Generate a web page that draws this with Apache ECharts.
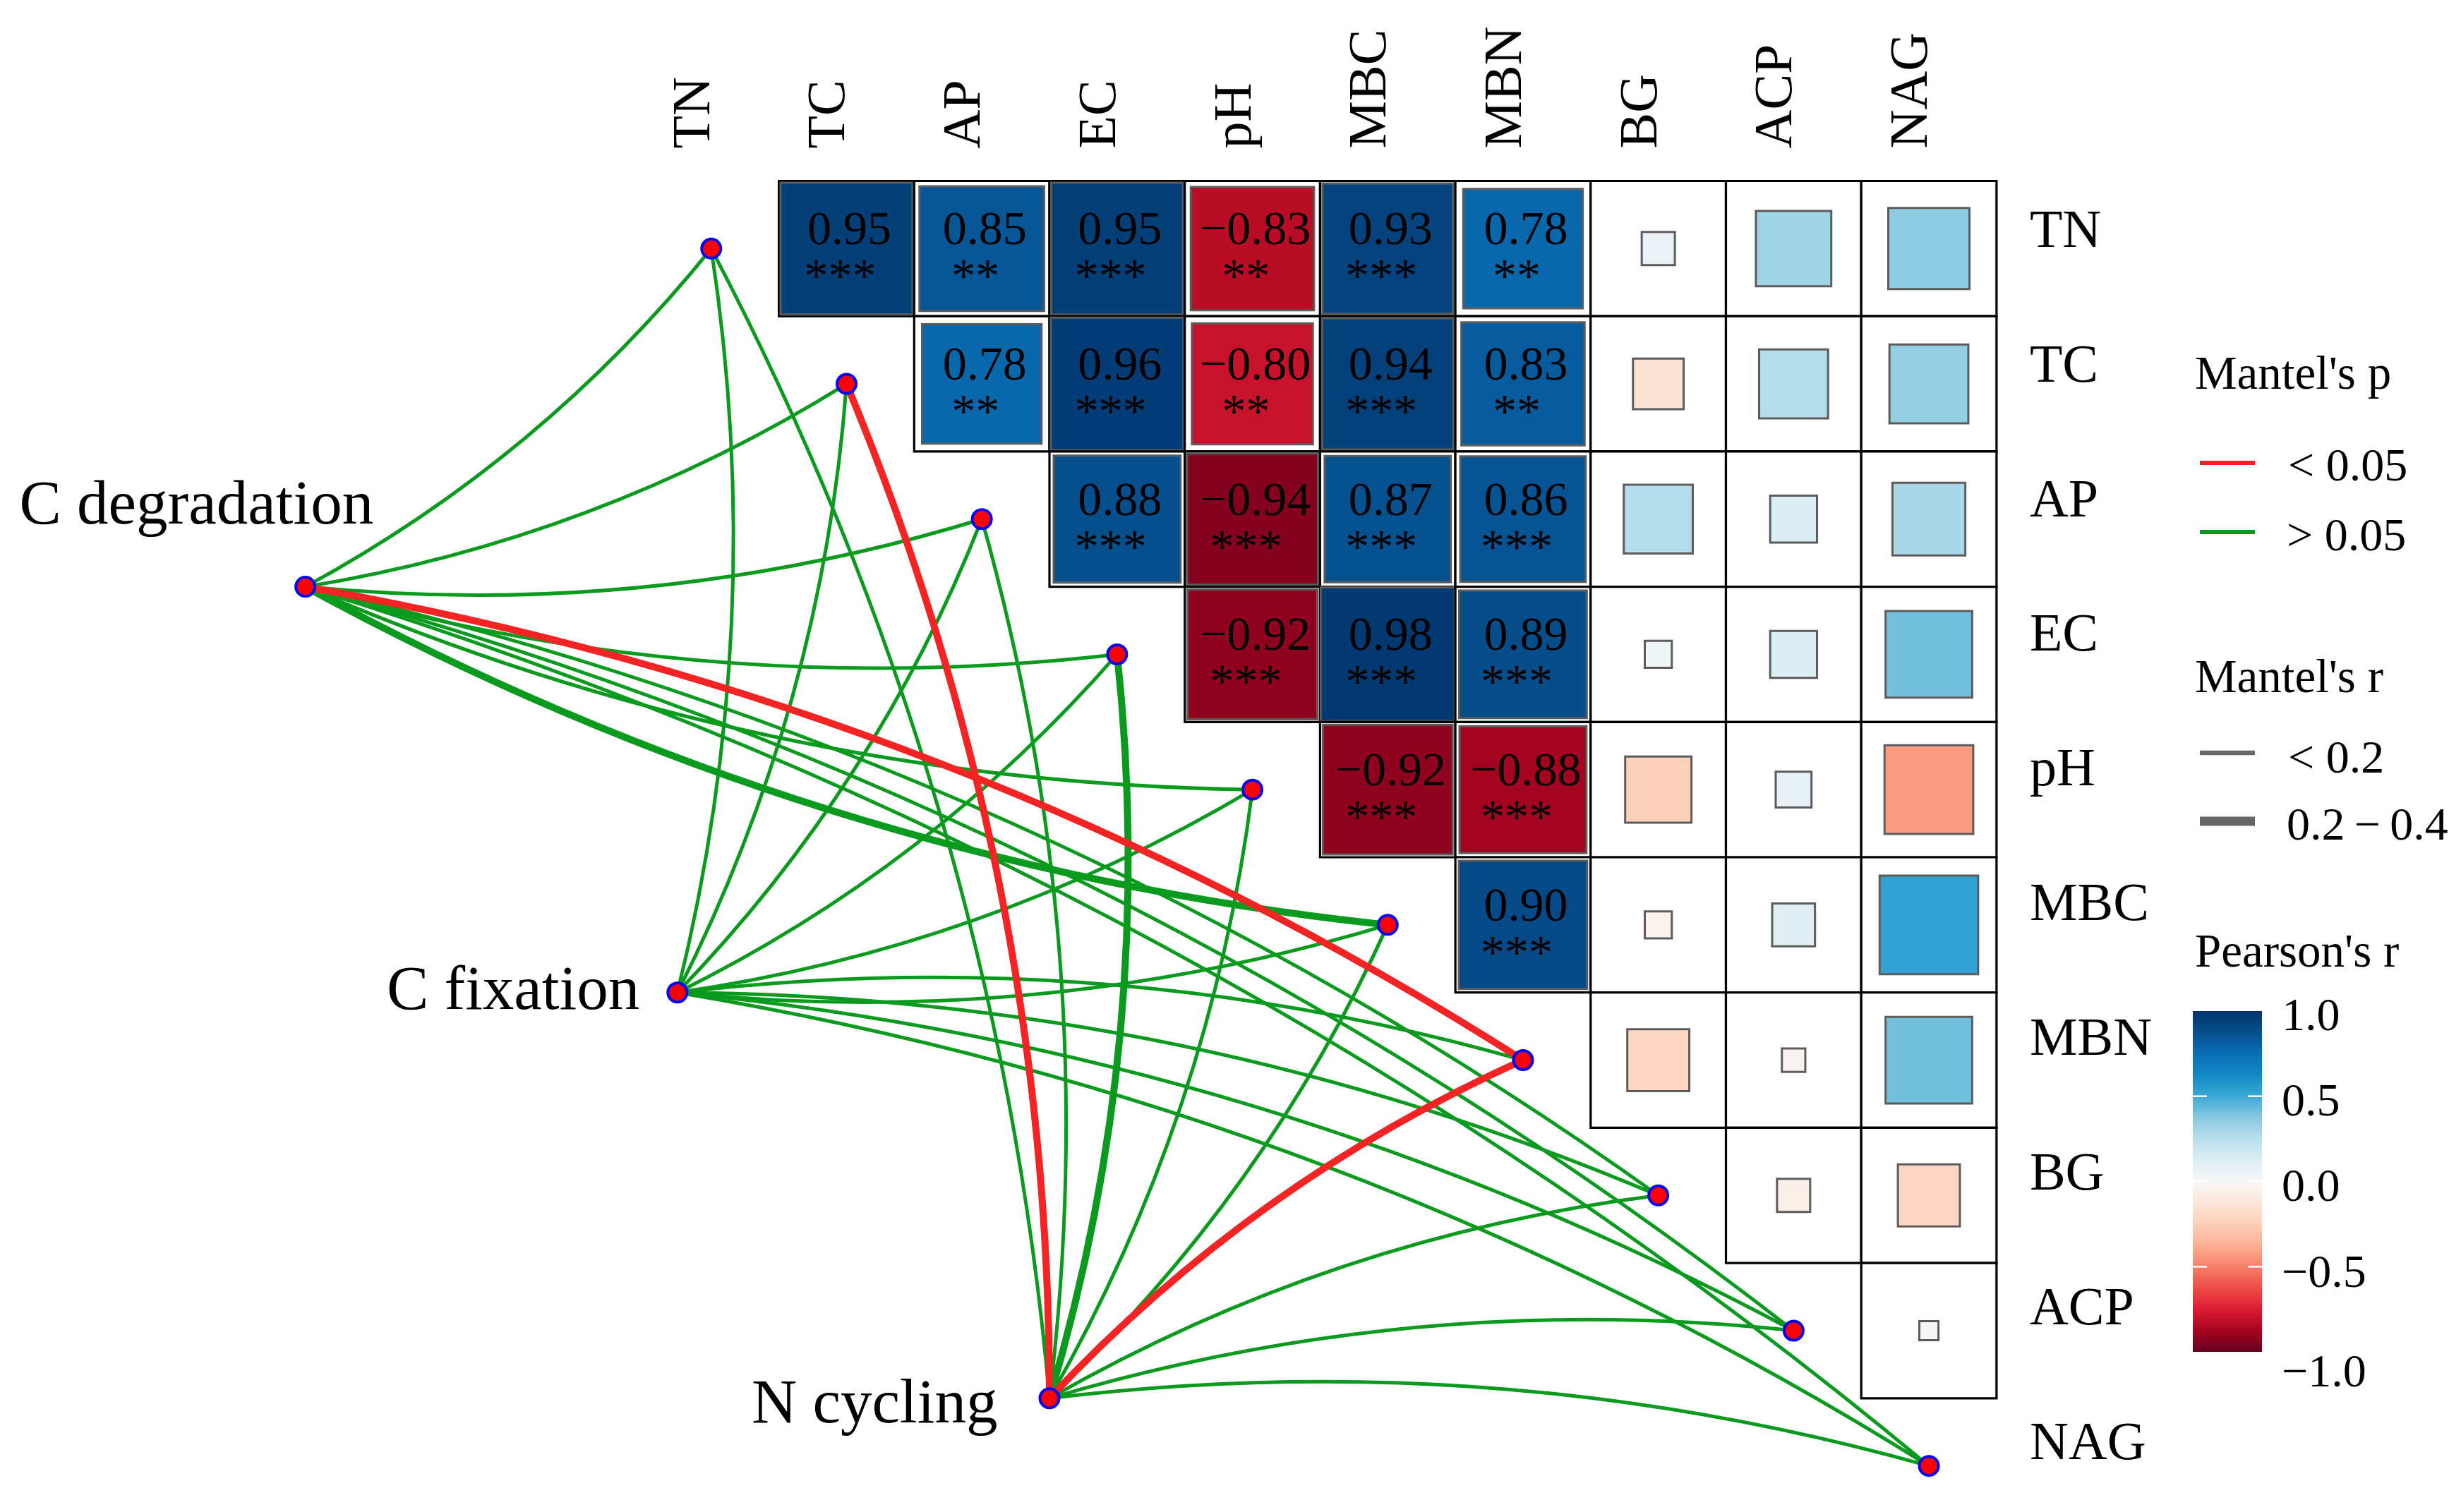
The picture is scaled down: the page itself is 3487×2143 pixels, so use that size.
<!DOCTYPE html>
<html><head><meta charset="utf-8">
<script src="https://cdn.jsdelivr.net/npm/echarts@6/dist/echarts.min.js"></script>
<style>html,body{margin:0;padding:0;background:#fff;}#chart{width:3487px;height:2143px;}</style>
</head><body><div id="chart"></div>
<script>
// ---------------- DATA ----------------
const envVars = ['TN','TC','AP','EC','pH','MBC','MBN','BG','ACP','NAG'];
const funcGroups = ['C degradation','C fixation','N cycling'];

// Pearson's r (upper triangle, each row lists the columns after the row variable)
const rTN  = [0.95, 0.85, 0.95, -0.83, 0.93, 0.78, 0.06, 0.31, 0.36];
const rTC  = [0.78, 0.96, -0.80, 0.94, 0.83, -0.14, 0.26, 0.34];
const rAP  = [0.88, -0.94, 0.87, 0.86, 0.26, 0.12, 0.29];
const rEC  = [-0.92, 0.98, 0.89, 0.04, 0.12, 0.41];
const rPH  = [-0.92, -0.88, -0.24, 0.07, -0.43];
const rMBC = [0.90, -0.04, 0.10, 0.53];
const rMBN = [-0.21, -0.03, 0.41];
const rBG  = [-0.06, -0.21];
const rACP = [0.02];

// significance stars for the same cells
const sTN  = ['***','**','***','**','***','**','','',''];
const sTC  = ['**','***','**','***','**','','',''];
const sAP  = ['***','***','***','***','','',''];
const sEC  = ['***','***','***','','',''];
const sPH  = ['***','***','','',''];
const sMBC = ['***','','',''];
const sMBN = ['','',''];
const sBG  = ['',''];
const sACP = [''];

// Mantel test classes (function group x environmental variable)
const mantelP_Cdeg = ['>0.05','>0.05','>0.05','>0.05','>0.05','>0.05','<0.05','>0.05','>0.05','>0.05'];
const mantelP_Cfix = ['>0.05','>0.05','>0.05','>0.05','>0.05','>0.05','>0.05','>0.05','>0.05','>0.05'];
const mantelP_Ncyc = ['>0.05','<0.05','>0.05','>0.05','>0.05','>0.05','<0.05','>0.05','>0.05','>0.05'];
const mantelR_Cdeg = ['<0.2','<0.2','<0.2','<0.2','<0.2','0.2-0.4','0.2-0.4','<0.2','<0.2','<0.2'];
const mantelR_Cfix = ['<0.2','<0.2','<0.2','<0.2','<0.2','<0.2','<0.2','<0.2','<0.2','<0.2'];
const mantelR_Ncyc = ['<0.2','0.2-0.4','<0.2','0.2-0.4','<0.2','<0.2','0.2-0.4','<0.2','<0.2','<0.2'];

// colour scale for Pearson's r
const pearsonTicks = ['1.0','0.5','0.0','\u22120.5','\u22121.0'];
const pearsonColors = ['#67001F','#A5041F','#DC1C33','#EE4B45','#F8806A','#FDB093','#FDD0BA','#FDE6DA','#F7F7F7',
                       '#DCEDF4','#B8DEEC','#88C9E1','#3AA9D4','#1089C4','#0A6FB6','#06508E','#02336A'];

// ---------------- LAYOUT ----------------
const CELL = 191.7, X0 = 911.9, Y0 = 256.5;
const XMIN = -4.5, XMAX = 10, YMIN = -1.5, YMAX = 9.3;
const FUNC_START = [-3, 2.5], FUNC_END = [2.5, 8.5];
const FONT = '"Liberation Serif","Times New Roman",serif';
const RED = '#F42424', GREEN = '#0A9A1E';

const rRows = [rTN, rTC, rAP, rEC, rPH, rMBC, rMBN, rBG, rACP];
const sRows = [sTN, sTC, sAP, sEC, sPH, sMBC, sMBN, sBG, sACP];
const mantelP = [mantelP_Cdeg, mantelP_Cfix, mantelP_Ncyc];
const mantelR = [mantelR_Cdeg, mantelR_Cfix, mantelR_Ncyc];

const cellData = [], cellStars = [];
rRows.forEach((row, r) => row.forEach((v, k) => {
  cellData.push([r + 1 + k, r, v]);
  cellStars.push(sRows[r][k]);
}));

const fmt = v => v.toFixed(2).replace('-', '\u2212');

const funcPos = funcGroups.map((g, i) => {
  const t = i / (funcGroups.length - 1);
  return [FUNC_START[0] + (FUNC_END[0] - FUNC_START[0]) * t, FUNC_START[1] + (FUNC_END[1] - FUNC_START[1]) * t];
});
const meanFuncY = funcPos.reduce((a, p) => a + p[1], 0) / funcPos.length;

const edges = [];
funcGroups.forEach((g, gi) => envVars.forEach((e, ei) => {
  const sig = mantelP[gi][ei] === '<0.05';
  const thick = mantelR[gi][ei] === '0.2-0.4';
  edges.push({
    order: (sig ? 2 : 0) + (thick ? 1 : 0),
    coords: [funcPos[gi], [ei, ei]],
    lineStyle: { color: sig ? RED : GREEN, width: thick ? 10 : 5, opacity: 1,
                 curveness: ei < meanFuncY ? -0.1 : 0.1 }
  });
}));
edges.sort((a, b) => a.order - b.order);

const labelOffsets = [[117, -113], [-33, 0], [-53, 11]];

const nodeData = envVars.map((e, i) => ({ value: [i, i], name: e }))
  .concat(funcGroups.map((g, i) => ({
    value: funcPos[i], name: g,
    label: { show: true, position: 'left', distance: 5, offset: labelOffsets[i],
             formatter: '{b}', fontFamily: FONT, fontSize: 89, color: '#000' }
  })));

// colour bar (legend)
const CB = { x: 3107, y: 1433, w: 98, h: 483 };
const stops = pearsonColors.map((c, i) => ({ offset: 1 - i / (pearsonColors.length - 1), color: c })).reverse();
const tickVals = [1, 0.5, 0, -0.5, -1];
const tickLabelY = [1443, 1564, 1685, 1807, 1948];
const graphics = [
  { type: 'text', x: 3110, y: 533, style: { text: "Mantel's p", font: '67px ' + FONT, fill: '#000', verticalAlign: 'middle' } },
  { type: 'line', shape: { x1: 3117, y1: 656, x2: 3195, y2: 656 }, style: { stroke: RED, lineWidth: 6 } },
  { type: 'text', x: 3242, y: 664, style: { text: '< 0.05', font: '66px ' + FONT, fill: '#000', verticalAlign: 'middle' } },
  { type: 'line', shape: { x1: 3117, y1: 754, x2: 3195, y2: 754 }, style: { stroke: GREEN, lineWidth: 6 } },
  { type: 'text', x: 3240, y: 763, style: { text: '> 0.05', font: '66px ' + FONT, fill: '#000', verticalAlign: 'middle' } },
  { type: 'text', x: 3110, y: 963, style: { text: "Mantel's r", font: '67px ' + FONT, fill: '#000', verticalAlign: 'middle' } },
  { type: 'line', shape: { x1: 3117, y1: 1067, x2: 3195, y2: 1067 }, style: { stroke: '#666', lineWidth: 6.5 } },
  { type: 'text', x: 3242, y: 1078, style: { text: '< 0.2', font: '66px ' + FONT, fill: '#000', verticalAlign: 'middle' } },
  { type: 'line', shape: { x1: 3117, y1: 1164, x2: 3195, y2: 1164 }, style: { stroke: '#666', lineWidth: 13 } },
  { type: 'text', x: 3240, y: 1173, style: { text: '0.2\u2009\u2212\u20090.4', font: '66px ' + FONT, fill: '#000', verticalAlign: 'middle' } },
  { type: 'text', x: 3110, y: 1352, style: { text: "Pearson's r", font: '67px ' + FONT, fill: '#000', verticalAlign: 'middle' } },
  { type: 'rect', shape: { x: CB.x, y: CB.y, width: CB.w, height: CB.h },
    style: { fill: new echarts.graphic.LinearGradient(0, 0, 0, 1, stops) } }
];
tickVals.forEach((v, i) => {
  const y = CB.y + (1 - v) / 2 * CB.h;
  if (v !== 1 && v !== -1) {
    graphics.push({ type: 'line', shape: { x1: CB.x, y1: y, x2: CB.x + 20, y2: y }, style: { stroke: '#fff', lineWidth: 2.5 } });
    graphics.push({ type: 'line', shape: { x1: CB.x + CB.w - 20, y1: y, x2: CB.x + CB.w, y2: y }, style: { stroke: '#fff', lineWidth: 2.5 } });
  }
  graphics.push({ type: 'text', x: 3233, y: tickLabelY[i],
    style: { text: pearsonTicks[i], font: '66px ' + FONT, fill: '#000', verticalAlign: 'middle' } });
});

// ---------------- CHART ----------------
const chart = echarts.init(document.getElementById('chart'));
chart.setOption({
  backgroundColor: '#fff',
  animation: false,
  grid: [
    { left: X0 + CELL * (XMIN + 0.5), top: Y0 + CELL * (YMIN + 0.5), width: CELL * (XMAX - XMIN), height: CELL * (YMAX - YMIN) },
    { left: X0 - 23, top: Y0 - 22, width: CELL * 10, height: CELL * 10 }
  ],
  xAxis: [
    { type: 'value', gridIndex: 0, min: XMIN, max: XMAX, show: false },
    { type: 'category', gridIndex: 1, data: envVars, position: 'top',
      axisLine: { show: false }, axisTick: { show: false }, splitLine: { show: false },
      axisLabel: { rotate: -90, margin: 24, fontFamily: FONT, fontSize: 76, color: '#000', interval: 0 } }
  ],
  yAxis: [
    { type: 'value', gridIndex: 0, min: YMIN, max: YMAX, inverse: true, show: false },
    { type: 'category', gridIndex: 1, data: envVars, position: 'right', inverse: true,
      axisLine: { show: false }, axisTick: { show: false }, splitLine: { show: false },
      axisLabel: { margin: 70, fontFamily: FONT, fontSize: 76, color: '#000', interval: 0 } }
  ],
  visualMap: {
    type: 'continuous', min: -1, max: 1, dimension: 2, seriesIndex: 0, show: false,
    inRange: { color: pearsonColors }
  },
  graphic: graphics,
  series: [
    {
      type: 'custom', xAxisIndex: 0, yAxisIndex: 0, data: cellData, clip: false, z: 2,
      renderItem: function (params, api) {
        const c = api.value(0), r = api.value(1), v = api.value(2);
        const tl = api.coord([c - 0.5, r - 0.5]);
        const br = api.coord([c + 0.5, r + 0.5]);
        const w = br[0] - tl[0], h = br[1] - tl[1];
        const cx = (tl[0] + br[0]) / 2, cy = (tl[1] + br[1]) / 2;
        const s = Math.sqrt(Math.abs(v));
        const children = [
          { type: 'rect', shape: { x: tl[0], y: tl[1], width: w, height: h }, style: { fill: '#fff', stroke: '#000', lineWidth: 3.2 } },
          { type: 'rect', shape: { x: cx - s * w / 2, y: cy - s * h / 2, width: s * w, height: s * h },
            style: { fill: api.visual('color'), stroke: '#5c5c5c', lineWidth: 3 } }
        ];
        const st = cellStars[params.dataIndex];
        if (st) {
          children.push({ type: 'text', x: cx + 4, y: cy - 24,
            style: { text: fmt(v), font: '68px ' + FONT, fill: '#000', align: 'center', verticalAlign: 'middle' } });
          children.push({ type: 'text', x: cx - 9, y: cy + 43,
            style: { text: st, font: '68px ' + FONT, fill: '#000', align: 'center', verticalAlign: 'middle' } });
        }
        return { type: 'group', children: children };
      }
    },
    {
      type: 'lines', coordinateSystem: 'cartesian2d', xAxisIndex: 0, yAxisIndex: 0, polyline: false, clip: false, z: 3,
      data: edges, silent: true
    },
    {
      type: 'scatter', xAxisIndex: 0, yAxisIndex: 0, clip: false, z: 4, symbol: 'circle', symbolSize: 27,
      itemStyle: { color: '#FF0000', borderColor: '#0000FF', borderWidth: 4, opacity: 1 },
      data: nodeData
    }
  ]
});
</script></body></html>
